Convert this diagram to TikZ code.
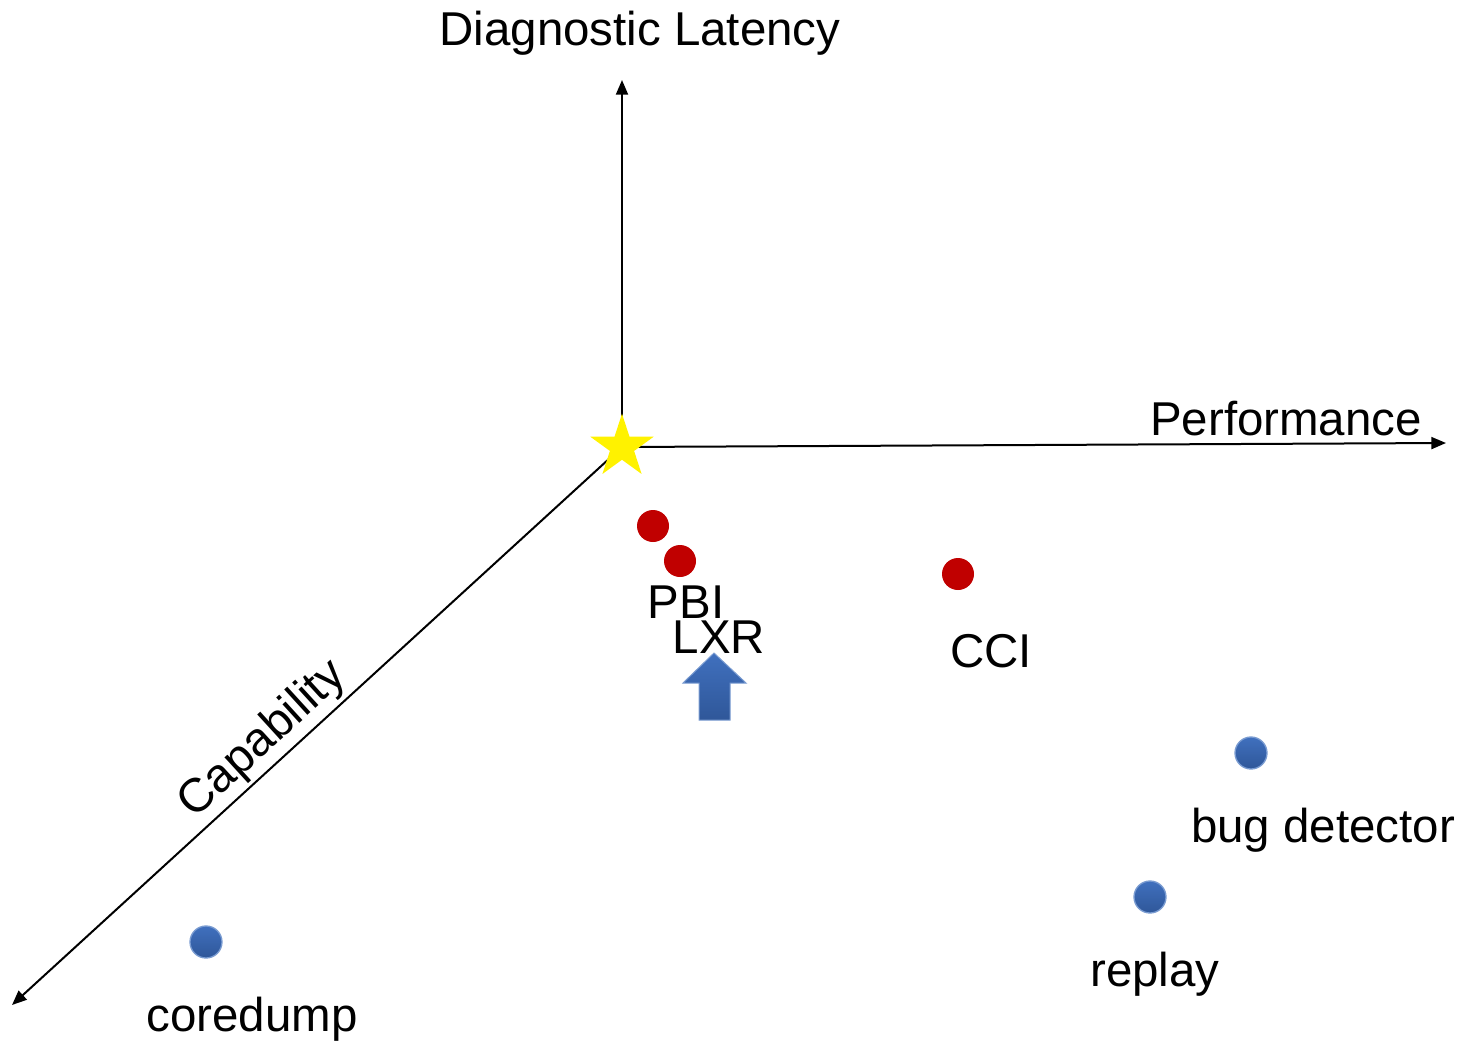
\documentclass[tikz,border=0pt]{standalone}
\usepackage{fontspec}
\setmainfont{Liberation Sans}
\usetikzlibrary{arrows.meta,shapes.geometric}
\definecolor{dotred}{RGB}{192,0,0}
\definecolor{dotblue}{RGB}{64,112,190}
\definecolor{dotbluedark}{RGB}{47,87,153}
\tikzset{
  axis/.style={line width=1.5pt,-{Triangle[length=11pt,width=9pt]}},
  lbl/.style={font=\fontsize{35.6}{40}\selectfont,inner sep=0pt},
  reddot/.style={circle,fill=dotred,minimum size=24pt,inner sep=0pt},
  bluedot/.style={circle,draw=dotblue!70!white,line width=1pt,top color=dotblue,bottom color=dotbluedark,minimum size=24pt,inner sep=0pt}
}
\begin{document}
\begin{tikzpicture}[x=0.75pt,y=-0.75pt]
\useasboundingbox (0,0) rectangle (1461,1046);
%% axes
\coordinate (O) at (622,447);
\coordinate (up) at (622,80);
\coordinate (right) at (1446,443);
\coordinate (down) at (12,1005);
\draw [axis] (O) -- (up);
\draw [axis] (O) -- (right);
\draw [axis] (O) -- (down);
\node [lbl] (latency) at (640,33) {Diagnostic Latency};
\node [lbl] (perf) at (1286,419) {Performance};
\node [lbl, rotate=42.4] (capab) at (263,740) {Capability};
%% best point
\node [star, star points=5, star point ratio=2.618, fill=yellow, minimum size=50pt, inner sep=0pt] (best) at (O) {};
%% red tools
\node [reddot] (pbi) at (653,526) {};
\node [reddot] (lxr) at (680,561) {};
\node [reddot] (cci) at (958,574) {};
\node [lbl] (pbitxt) at (686,602) {PBI};
\node [lbl] (lxrtxt) at (719,637) {LXR};
\node [lbl] (ccitxt) at (991,651) {CCI};
%% blue tools
\node [bluedot] (bugdet) at (1251,753) {};
\node [bluedot] (replay) at (1150,897) {};
\node [bluedot] (core) at (206,942) {};
\node [lbl] (bugdettxt) at (1323,830) {bug detector};
\node [lbl] (replaytxt) at (1155,974) {replay};
\node [lbl] (coretxt) at (252,1019) {coredump};
%% improvement arrow
\shade [top color=dotblue, bottom color=dotbluedark, draw=dotblue!70!white, line width=0.75pt]
  (714,653) -- (746,683) -- (730,683) -- (730,720) -- (699,720) -- (699,683) -- (683,683) -- cycle;
\end{tikzpicture}
\end{document}
